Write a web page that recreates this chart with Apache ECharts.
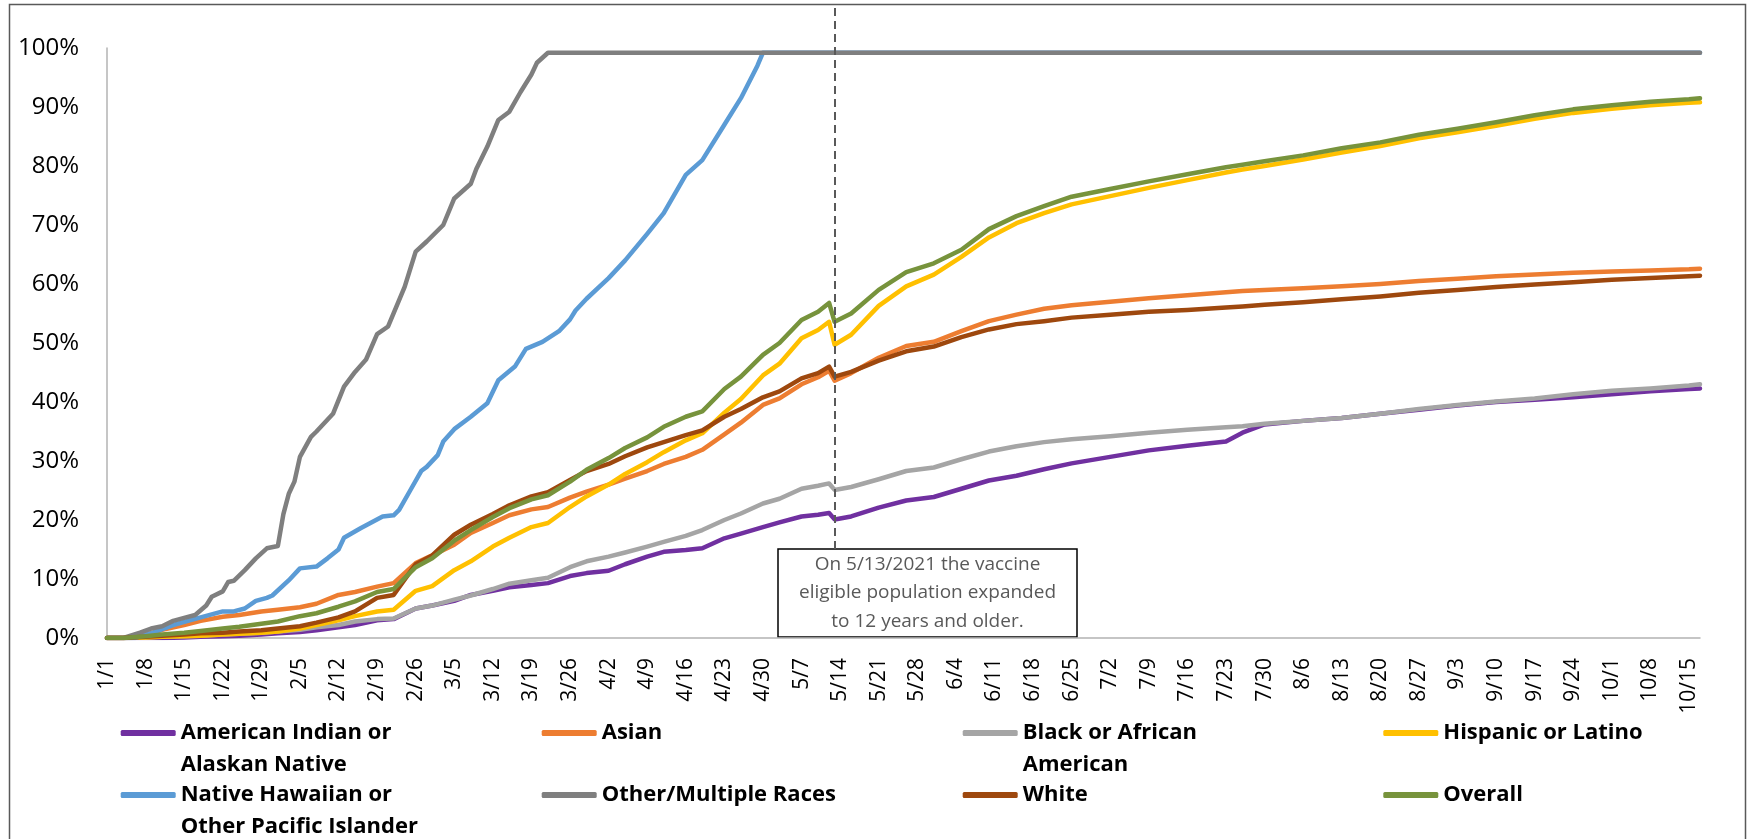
<!DOCTYPE html>
<html><head><meta charset="utf-8">
<script src="https://cdn.jsdelivr.net/npm/echarts@6/dist/echarts.min.js"></script>
<style>html,body{margin:0;padding:0;background:#fff}#c{width:1747px;height:839px}</style>
</head><body><div id="c"></div>
<script>
// ---- data (percent of eligible population vaccinated, 2021; x = days since 1/1) ----
const seriesNames = ['American Indian or Alaskan Native','Asian','Black or African American','Hispanic or Latino','Native Hawaiian or Other Pacific Islander','Other/Multiple Races','White','Overall'];
const legendLabels = ['American Indian or\nAlaskan Native','Asian','Black or African\nAmerican','Hispanic or Latino','Native Hawaiian or\nOther Pacific Islander','Other/Multiple Races','White','Overall'];
const seriesColors = ['#7030a0','#ed7d31','#a5a5a5','#ffc000','#5b9bd5','#7f7f7f','#9e480e','#77933c'];

const days = [0,3,7,10,14,17,21,24,28,31, 35,38,42,45,49,52,56,59,63,66, 70,73,77,80,84,87,91,94,98,101, 105,108,112,115,119,122,126,129,131,132, 135,140,145,150,155,160,165,170,175,182, 189,196,203,206,210,217,224,231,238,245, 252,259,266,273,280,287,289];
const americanIndian = [0,0,0,0,0.1,0.2,0.3,0.4,0.6,0.8, 1.0,1.3,1.8,2.2,3.0,3.2,5.0,5.5,6.3,7.3, 8.0,8.6,9.0,9.3,10.5,11.0,11.4,12.5,13.8,14.6, 14.9,15.2,16.9,17.7,18.8,19.6,20.6,20.9,21.2,20.1, 20.6,22.1,23.3,23.9,25.3,26.7,27.5,28.6,29.6,30.7, 31.8,32.6,33.3,34.8,36.2,36.8,37.3,38.0,38.7,39.4, 40.0,40.4,40.8,41.3,41.8,42.2,42.3];
const asian = [0,0,0.5,1.4,2.2,2.9,3.6,3.9,4.5,4.8, 5.2,5.8,7.3,7.8,8.7,9.3,12.7,14.0,15.8,17.8, 19.5,20.8,21.8,22.2,23.8,24.8,26.0,27.0,28.3,29.5, 30.7,31.9,34.5,36.5,39.5,40.6,43.0,44.2,45.3,43.6, 44.9,47.5,49.5,50.2,52.0,53.7,54.8,55.8,56.4,57.0, 57.6,58.1,58.6,58.8,59.0,59.3,59.6,60.0,60.5,60.9, 61.3,61.6,61.9,62.1,62.3,62.5,62.6];
const black = [0,0,0.1,0.2,0.3,0.4,0.6,0.7,0.9,1.1, 1.4,1.8,2.2,2.8,3.2,3.3,5.0,5.5,6.5,7.2, 8.3,9.2,9.8,10.2,12.0,13.0,13.8,14.5,15.5,16.3, 17.3,18.3,20.0,21.1,22.8,23.6,25.3,25.8,26.2,25.1, 25.6,26.9,28.3,28.9,30.3,31.6,32.5,33.2,33.7,34.2, 34.8,35.3,35.7,35.9,36.3,36.8,37.3,38.0,38.8,39.5, 40.1,40.6,41.3,41.9,42.3,42.8,43.0];
const hispanic = [0,0,0.1,0.2,0.3,0.4,0.6,0.7,0.9,1.1, 1.6,2.2,3.0,3.7,4.5,4.8,8.0,8.8,11.5,13.0, 15.5,17.0,18.8,19.5,22.2,24.0,26.0,27.8,29.8,31.5, 33.5,34.7,38.2,40.5,44.5,46.5,50.8,52.2,53.6,49.7, 51.4,56.3,59.6,61.6,64.6,67.9,70.3,72.0,73.5,74.9, 76.3,77.6,78.9,79.4,80.0,81.1,82.3,83.4,84.7,85.7, 86.8,88.0,89.0,89.7,90.3,90.7,90.8];
const white = [0,0,0.2,0.4,0.6,0.8,0.9,1.1,1.3,1.6, 2.0,2.6,3.5,4.5,6.8,7.3,12.5,14.0,17.5,19.2, 21.0,22.5,24.0,24.7,26.8,28.3,29.5,30.8,32.3,33.2, 34.4,35.2,37.5,38.8,40.8,41.8,44.0,44.9,46.0,44.3, 45.1,47.0,48.6,49.4,51.0,52.3,53.2,53.7,54.3,54.8, 55.3,55.6,56.0,56.2,56.5,56.9,57.4,57.9,58.5,59.0, 59.5,59.9,60.3,60.7,61.0,61.3,61.4];
const overall = [0,0,0.3,0.6,0.9,1.2,1.6,1.9,2.4,2.8, 3.7,4.2,5.3,6.2,7.8,8.3,12.0,13.5,16.5,18.3, 20.5,22.0,23.5,24.2,26.5,28.5,30.5,32.2,34.0,35.8, 37.5,38.4,42.2,44.3,48.0,50.0,53.9,55.3,56.8,53.6, 55.0,59.0,62.0,63.5,65.8,69.3,71.5,73.2,74.8,76.1, 77.4,78.6,79.8,80.2,80.8,81.8,83.0,84.0,85.3,86.3, 87.4,88.6,89.6,90.3,90.9,91.3,91.5];

const nhDays = [0,5,8,12,15,19,21,23,25,27, 29,30,33,35,38,40,42,43,46,50, 52,53,55,57,58,60,61,63,66,69, 71,74,76,79,82,84,85,87,91,94, 98,101,105,108,112,115,118,119,289];
const nativeHawaiian = [0,0,0.8,2.2,3.0,4.0,4.5,4.5,5.0,6.3, 6.8,7.2,9.8,11.8,12.1,13.5,15.0,17.0,18.6,20.6, 20.8,21.7,25.0,28.3,29.0,31.0,33.3,35.4,37.5,39.8, 43.7,46.0,49.0,50.2,52.0,54.0,55.5,57.5,61.0,64.0, 68.5,72.0,78.5,81.0,87.0,91.5,97.0,99.2,99.2];
const otherDays = [0,3,6,8,10,12,14,16,18,19, 21,22,23,25,27,29,31,32,33,34, 35,37,38,41,43,45,47,49,51,54, 56,58,61,63,66,67,69,71,73,75, 77,78,80,289];
const otherMultiple = [0,0,0.9,1.6,2.0,2.9,3.4,3.9,5.5,7.0, 7.9,9.5,9.7,11.5,13.5,15.2,15.6,21.0,24.5,26.5, 30.7,34.1,35.0,38.0,42.6,45.1,47.2,51.5,52.8,59.5, 65.5,67.2,70.0,74.5,77.0,79.5,83.3,87.8,89.2,92.5, 95.5,97.5,99.2,99.2];

const lastDay = 289;          // 10/17
const tickDays = 7;           // one label per week
const yMax = 100, yStep = 10; // percent axis
const eligibilityDay = 132;   // 5/13
const boxTopValue = 15.1;     // dashed line stops at the note box
const noteText = 'On 5/13/2021 the vaccine\neligible population expanded\nto 12 years and older.';

// ---- chart ----
const pair = (xs, ys) => xs.map((d, i) => [d, ys[i]]);
const seriesData = [
  pair(days, americanIndian), pair(days, asian), pair(days, black), pair(days, hispanic),
  pair(nhDays, nativeHawaiian), pair(otherDays, otherMultiple), pair(days, white), pair(days, overall)
];
const dayLabel = v => { const d = new Date(2021, 0, 1 + v); return (d.getMonth() + 1) + '/' + d.getDate(); };

const series = seriesNames.map((n, i) => ({
  name: n, type: 'line', data: seriesData[i], showSymbol: false, symbol: 'none',
  color: seriesColors[i],
  lineStyle: { width: 4.5, color: seriesColors[i], cap: 'round', join: 'round' },
  animation: false
}));
series[7].markLine = {
  silent: true, symbol: 'none', animation: false,
  label: { show: false },
  lineStyle: { color: '#595959', width: 2, type: [8, 5] },
  data: [[{ coord: [eligibilityDay, boxTopValue] }, { coord: [eligibilityDay, yMax], y: 6 }]]
};

const cols = [120.7, 541.7, 962.7, 1383.3];
const rows = [733, 795];
const legends = seriesNames.map((n, i) => {
  const two = legendLabels[i].indexOf('\n') >= 0;
  const c = i % 4, r = Math.floor(i / 4);
  // a blank first line keeps the first text line level with the icon
  const label = two ? '\n' + legendLabels[i] : legendLabels[i];
  return {
    data: [n], left: cols[c], top: rows[r] - (two ? 48 : 16), padding: 0,
    icon: 'roundRect', itemWidth: 55, itemHeight: 6,
    itemStyle: { borderWidth: 0 },
    formatter: () => label,
    textStyle: { fontFamily: 'Open Sans', fontWeight: 700, fontSize: 22, color: '#000', lineHeight: 32 }
  };
});

const option = {
  animation: false,
  backgroundColor: '#fff',
  grid: { left: 107, right: 47, top: 48, bottom: 201, containLabel: false },
  xAxis: {
    type: 'value', min: 0, max: lastDay, interval: tickDays,
    splitLine: { show: false }, axisTick: { show: false },
    axisLine: { show: true, lineStyle: { color: '#b3b3b3', width: 1.5 } },
    axisLabel: { rotate: 90, margin: 20, fontFamily: 'Open Sans', fontSize: 21, color: '#000', showMaxLabel: false, formatter: dayLabel }
  },
  yAxis: {
    type: 'value', min: 0, max: yMax, interval: yStep,
    splitLine: { show: false }, axisTick: { show: false },
    axisLine: { show: true, lineStyle: { color: '#b3b3b3', width: 1.5 } },
    axisLabel: { margin: 28, fontFamily: 'Open Sans', fontSize: 24, color: '#000', formatter: '{value}%' }
  },
  legend: legends,
  series: series,
  graphic: [
    { type: 'rect', z: -1, silent: true, shape: { x: 9.5, y: 4.5, width: 1736, height: 860 }, style: { fill: 'none', stroke: '#595959', lineWidth: 1.5 } },
    { type: 'group', z: 100, silent: true, children: [
      { type: 'rect', shape: { x: 778, y: 549, width: 299, height: 88 }, style: { fill: '#fff', stroke: '#000', lineWidth: 1.5 } },
      { type: 'text', style: { x: 927.5, y: 593, text: noteText, align: 'center', verticalAlign: 'middle', font: '19px "Open Sans"', lineHeight: 28.3, fill: '#595959' } }
    ]}
  ]
};
const chart = echarts.init(document.getElementById('c'), null, { renderer: 'canvas' });
chart.setOption(option);
</script></body></html>
